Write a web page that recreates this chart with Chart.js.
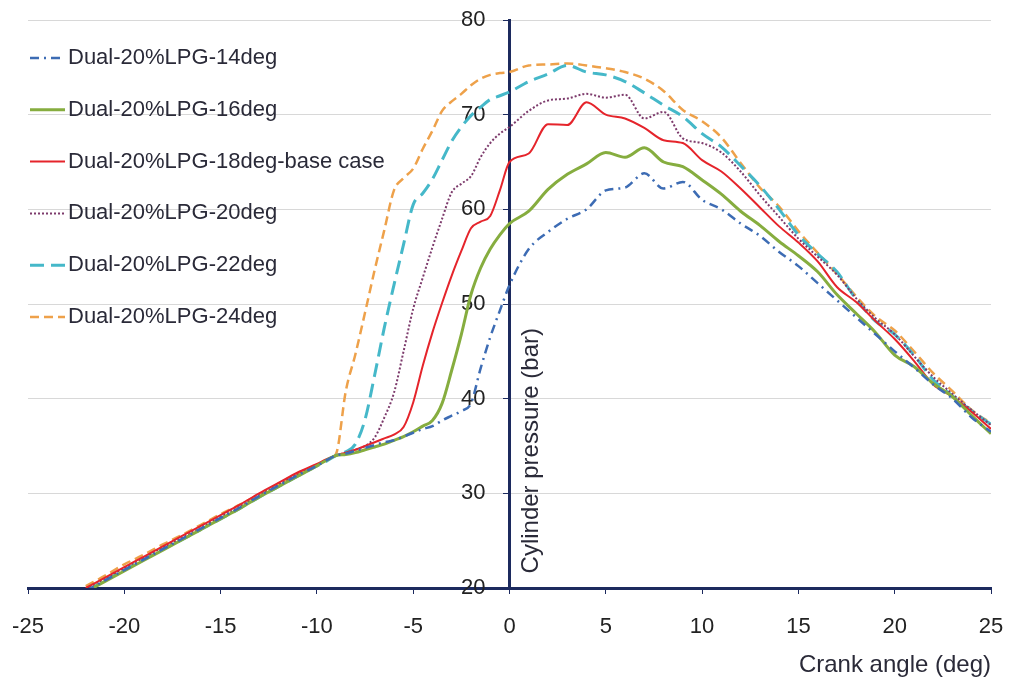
<!DOCTYPE html>
<html>
<head>
<meta charset="utf-8">
<script src="https://cdn.jsdelivr.net/npm/chart.js@4/dist/chart.umd.min.js"></script>
<style>
  html, body { margin: 0; padding: 0; background: #fff; }
</style>
</head>
<body>
<canvas id="pressureChart" width="1010" height="685"></canvas>
<script>
// crank angle (deg), finer steps through the ignition rise
const crankAngle = [-22, -21, -20, -19, -18, -17, -16, -15, -14, -13, -12, -11, -10,
  -9.5, -9, -8.5, -8, -7.5, -7, -6.5, -6, -5.5, -5, -4.5, -4, -3.5, -3, -2.5, -2, -1.5, -1, -0.5, 0,
  1, 2, 3, 4, 5, 6, 7, 8, 9, 10, 11, 12, 13, 14, 15, 16, 17, 18, 19, 20, 21, 22, 23, 24, 25];

// cylinder pressure (bar) per injection timing
const p14deg = [19.7, 20.8, 21.9, 23.0, 24.1, 25.2, 26.3, 27.4, 28.5, 29.7, 30.8, 31.9, 32.9,
  33.5, 34.0, 34.2, 34.5, 34.8, 35.1, 35.4, 35.6, 36.0, 36.4, 36.8, 37.1, 37.7, 38.2, 38.7, 39.5, 43.2, 46.5, 49.3, 52.0,
  55.8, 57.6, 59.0, 60.0, 62.0, 62.3, 63.8, 62.2, 62.9, 61.0, 60.0, 58.5, 57.2, 55.5, 54.0, 52.2, 50.4, 48.6, 46.8, 45.0, 43.3, 41.5, 40.0, 38.0, 36.5];
const p16deg = [19.6, 20.7, 21.8, 22.9, 24.0, 25.1, 26.2, 27.3, 28.4, 29.6, 30.7, 31.8, 32.9,
  33.5, 34.0, 34.1, 34.3, 34.6, 34.9, 35.2, 35.6, 36.0, 36.5, 37.1, 37.7, 39.5, 43.0, 46.8, 51.0, 53.8, 55.8, 57.3, 58.5,
  59.8, 62.1, 63.7, 64.8, 66.0, 65.5, 66.5, 65.0, 64.5, 63.1, 61.6, 59.8, 58.3, 56.6, 55.1, 53.4, 51.0, 49.0, 47.0, 44.6, 43.4, 41.6, 40.2, 38.2, 36.3];
const p18deg = [20.0, 21.1, 22.2, 23.3, 24.4, 25.5, 26.6, 27.7, 28.8, 30.0, 31.1, 32.2, 33.1,
  33.6, 34.0, 34.3, 34.6, 35.0, 35.4, 35.8, 36.2, 37.0, 39.6, 43.5, 47.0, 50.1, 53.0, 55.6, 58.0, 58.7, 59.3, 62.0, 65.0,
  65.9, 69.0, 68.9, 71.3, 70.0, 69.6, 68.6, 67.3, 67.0, 65.2, 64.0, 62.2, 60.2, 58.2, 56.5, 54.5, 51.8, 50.2, 48.2, 46.3, 44.0, 41.5, 40.2, 38.6, 36.8];
const p20deg = [19.9, 21.0, 22.1, 23.2, 24.3, 25.3, 26.4, 27.5, 28.6, 29.8, 30.9, 32.0, 33.0,
  33.5, 34.0, 34.3, 34.6, 35.0, 35.9, 38.0, 40.6, 45.0, 49.5, 52.8, 56.0, 59.0, 61.8, 62.7, 63.5, 65.5, 67.0, 68.0, 68.7,
  70.4, 71.5, 71.7, 72.2, 71.8, 72.1, 69.6, 70.3, 67.5, 67.0, 66.0, 64.0, 61.5, 59.2, 56.9, 55.0, 53.1, 50.6, 48.5, 46.8, 44.5, 42.3, 40.5, 38.8, 37.2];
const p22deg = [19.6, 20.8, 21.9, 23.0, 24.1, 25.1, 26.2, 27.3, 28.4, 29.6, 30.7, 31.8, 32.9,
  33.4, 34.0, 34.4, 35.2, 37.8, 42.5, 47.5, 52.0, 56.3, 60.5, 61.7, 63.2, 65.2, 67.2, 68.7, 69.9, 70.8, 71.6, 72.0, 72.4,
  73.5, 74.3, 75.2, 74.5, 74.2, 73.5, 72.3, 71.0, 69.8, 68.0, 66.6, 64.6, 62.5, 60.0, 57.3, 55.3, 53.4, 50.5, 48.2, 46.8, 44.6, 42.0, 40.3, 38.7, 37.3];
const p24deg = [20.2, 21.3, 22.5, 23.5, 24.6, 25.6, 26.7, 27.8, 28.8, 29.9, 31.0, 32.1, 33.0,
  33.5, 34.2, 40.8, 44.7, 49.1, 53.6, 57.8, 62.0, 63.3, 64.3, 66.4, 68.3, 70.4, 71.4, 72.2, 73.1, 73.8, 74.2, 74.4, 74.5,
  75.2, 75.3, 75.4, 75.2, 74.9, 74.5, 73.8, 72.5, 70.5, 69.3, 67.6, 64.9, 62.3, 60.3, 57.7, 55.4, 53.2, 50.8, 48.7, 47.2, 45.0, 42.7, 40.8, 38.8, 37.4];

const seriesNames = ['Dual-20%LPG-14deg', 'Dual-20%LPG-16deg', 'Dual-20%LPG-18deg-base case',
  'Dual-20%LPG-20deg', 'Dual-20%LPG-22deg', 'Dual-20%LPG-24deg'];

const navy = '#1c2a5e';
const font = '"Liberation Sans", Arial, sans-serif';

function points(values) {
  return crankAngle.map((a, i) => ({ x: a, y: values[i] }));
}

function line(label, values, color, width, dash) {
  return {
    label: label,
    data: points(values),
    borderColor: color,
    borderWidth: width,
    borderDash: dash,
    pointRadius: 0,
    fill: false,
    cubicInterpolationMode: 'monotone'
  };
}

// legend drawn in the top-left corner of the plot
const cornerLegend = {
  id: 'cornerLegend',
  afterDatasetsDraw(chart) {
    const { ctx, chartArea } = chart;
    ctx.save();
    ctx.font = '22px ' + font;
    ctx.textBaseline = 'middle';
    chart.data.datasets.forEach((ds, i) => {
      const y = chartArea.top + 38 + i * 51.8;
      const x = chartArea.left + 2;
      ctx.strokeStyle = ds.borderColor;
      ctx.lineWidth = ds.borderWidth;
      ctx.setLineDash(ds.borderDash);
      ctx.beginPath();
      ctx.moveTo(x, y);
      ctx.lineTo(x + 35, y);
      ctx.stroke();
      ctx.setLineDash([]);
      ctx.fillStyle = '#2a2a38';
      ctx.fillText(ds.label, x + 38, y);
    });
    ctx.restore();
  }
};

// the y axis sits at 0 deg, so its tick labels are placed left of it by hand
const centreAxisText = {
  id: 'centreAxisText',
  beforeDatasetsDraw(chart) {
    const { ctx, scales } = chart;
    const x0 = scales.x.getPixelForValue(0);
    ctx.save();
    ctx.font = '22px ' + font;
    ctx.fillStyle = '#222';
    ctx.textAlign = 'right';
    ctx.textBaseline = 'middle';
    scales.y.ticks.forEach((t) => {
      ctx.fillText(String(t.value), x0 - 24, scales.y.getPixelForValue(t.value));
    });
    ctx.restore();
  },
  afterDraw(chart) {
    const { ctx, scales } = chart;
    ctx.save();
    ctx.translate(scales.x.getPixelForValue(0) + 22, scales.y.getPixelForValue(34.5));
    ctx.rotate(-Math.PI / 2);
    ctx.font = '24px ' + font;
    ctx.fillStyle = '#2a2a38';
    ctx.textAlign = 'center';
    ctx.textBaseline = 'middle';
    ctx.fillText('Cylinder pressure (bar)', 0, 0);
    ctx.restore();
  }
};

const ctx = document.getElementById('pressureChart').getContext('2d');

new Chart(ctx, {
  type: 'line',
  data: {
    datasets: [
      line(seriesNames[0], p14deg, '#3d6cb4', 2.5, [9, 5, 2, 5]),
      line(seriesNames[1], p16deg, '#86ad3f', 3, []),
      line(seriesNames[2], p18deg, '#e5242b', 2, []),
      line(seriesNames[3], p20deg, '#7d3b6c', 2, [2, 2]),
      line(seriesNames[4], p22deg, '#45b8c9', 3, [14, 7]),
      line(seriesNames[5], p24deg, '#eea14a', 2.5, [9, 5])
    ]
  },
  options: {
    responsive: false,
    animation: false,
    layout: { padding: { left: 28, right: 19, top: 20, bottom: 0 } },
    plugins: {
      legend: { display: false },
      tooltip: { enabled: false }
    },
    scales: {
      x: {
        type: 'linear',
        position: 'bottom',
        min: -25,
        max: 25,
        afterFit: (scale) => {
          scale.height = 97;
          scale.paddingLeft = 0;
          scale.paddingRight = 0;
        },
        ticks: { stepSize: 5, color: '#222', font: { size: 22, family: font }, padding: 20, maxRotation: 0 },
        grid: { display: true, drawOnChartArea: false, drawTicks: true, tickLength: 6, tickColor: navy },
        border: { color: navy, width: 3 },
        title: { display: true, text: 'Crank angle (deg)', align: 'end', color: '#2a2a38', font: { size: 24, family: font }, padding: { top: 4, bottom: 5 } }
      },
      y: {
        type: 'linear',
        position: { x: 0 },
        min: 20,
        max: 80,
        afterFit: (scale) => { scale.width = 0; },
        ticks: { stepSize: 10, display: false },
        grid: { color: '#d8d8d8', lineWidth: 1, tickLength: 5, tickColor: navy },
        border: { color: navy, width: 3 }
      }
    }
  },
  plugins: [cornerLegend, centreAxisText]
});
</script>
</body>
</html>
